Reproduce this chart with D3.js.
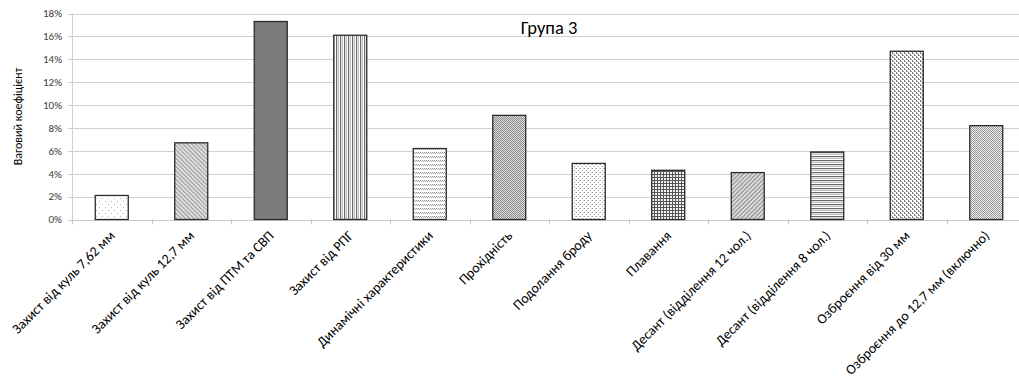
<!DOCTYPE html>
<html>
<head>
<meta charset="utf-8">
<script src="https://cdn.jsdelivr.net/npm/d3@7"></script>
<style>
  html, body { margin: 0; padding: 0; background: #fff; }
  svg { display: block; }
  text { font-family: Carlito, Calibri, "Liberation Sans", "DejaVu Sans", sans-serif; }
</style>
</head>
<body>
<svg id="chart" width="1019" height="389"></svg>
<script>
// Weight coefficients for group 3
const categories = [
  "Захист від куль 7,62 мм",
  "Захист від куль 12,7 мм",
  "Захист від ПТМ та СВП",
  "Захист від РПГ",
  "Динамічні характеристики",
  "Прохідність",
  "Подолання броду",
  "Плавання",
  "Десант (відділення 12 чол.)",
  "Десант (відділення 8 чол.)",
  "Озброєння від 30 мм",
  "Озброєння до 12,7 мм (включно)"
];
const weights = [0.021, 0.067, 0.173, 0.161, 0.062, 0.091, 0.049, 0.043, 0.041, 0.059, 0.147, 0.082];
const yTicks = [0, 0.02, 0.04, 0.06, 0.08, 0.10, 0.12, 0.14, 0.16, 0.18];
const fillPatterns = ["dots", "diagDown", "solidGray", "vertical", "dashH", "checker",
                      "dotsDense", "grid", "diagUp", "horizontal", "zigzag", "checkerLight"];
const chartTitle = "Група 3";
const yLabel = "Ваговий коефіцієнт";

const svg = d3.select("#chart");
const margin = { left: 72, top: 13.5, bottom: 219.5, right: 1026 };

const x = d3.scaleBand().domain(categories).range([margin.left, margin.right]).paddingInner(0.585).paddingOuter(0.2925);
const y = d3.scaleLinear().domain([0, 0.18]).range([margin.bottom, margin.top]);

// ---- pattern definitions ----
const defs = svg.append("defs");
function pat(id, w, h, build, transform) {
  const p = defs.append("pattern").attr("id", id).attr("patternUnits", "userSpaceOnUse")
    .attr("width", w).attr("height", h);
  if (transform) p.attr("patternTransform", transform);
  build(p);
}
function px(p, x0, y0, c, w = 1, h = 1) {
  p.append("rect").attr("x", x0).attr("y", y0).attr("width", w).attr("height", h).attr("fill", c);
}
pat("dots", 6, 6, p => {
  px(p, 0, 0, "#fff", 6, 6);
  px(p, 0, 0, "#b5b5b5");
  px(p, 3, 3, "#b5b5b5");
});
pat("diagDown", 3, 3, p => {
  px(p, 0, 0, "#e6e6e6", 3, 3);
  px(p, 0, 0, "#9a9a9a", 1.2, 3);
}, "rotate(-45)");
pat("solidGray", 4, 4, p => {
  px(p, 0, 0, "#7a7a7a", 4, 4);
  px(p, 0, 0, "#868686");
  px(p, 2, 2, "#868686");
});
pat("vertical", 4, 4, p => {
  px(p, 0, 0, "#fff", 4, 4);
  px(p, 0, 0, "#6a6a6a", 1.2, 4);
  px(p, 2, 0, "#b0b0b0", 0.8, 4);
});
pat("dashH", 4, 4, p => {
  px(p, 0, 0, "#fff", 4, 4);
  px(p, 0, 0, "#8a8a8a");
  px(p, 2, 0, "#8a8a8a");
  px(p, 1, 1, "#aaa");
  px(p, 3, 1, "#aaa");
});
pat("checker", 2, 2, p => {
  px(p, 0, 0, "#ddd", 2, 2);
  px(p, 0, 0, "#8c8c8c");
  px(p, 1, 1, "#8c8c8c");
});
pat("dotsDense", 4, 4, p => {
  px(p, 0, 0, "#fff", 4, 4);
  px(p, 0, 0, "#999");
  px(p, 2, 2, "#999");
  px(p, 3, 0, "#c4c4c4");
});
pat("grid", 3, 3, p => {
  px(p, 0, 0, "#f4f4f4", 3, 3);
  px(p, 0, 0, "#555", 3, 1);
  px(p, 0, 0, "#555", 1, 3);
});
pat("diagUp", 3, 3, p => {
  px(p, 0, 0, "#e6e6e6", 3, 3);
  px(p, 0, 0, "#8e8e8e", 1.3, 3);
}, "rotate(45)");
pat("horizontal", 4, 4, p => {
  px(p, 0, 0, "#fff", 4, 4);
  px(p, 0, 0, "#6a6a6a", 4, 1.2);
  px(p, 0, 2, "#b0b0b0", 4, 0.8);
});
pat("zigzag", 4, 4, p => {
  px(p, 0, 0, "#fff", 4, 4);
  px(p, 0, 0, "#7e7e7e", 1, 2);
  px(p, 1, 1, "#a0a0a0");
  px(p, 2, 2, "#7e7e7e", 1, 2);
  px(p, 3, 3, "#a0a0a0");
});
pat("checkerLight", 2, 2, p => {
  px(p, 0, 0, "#eee", 2, 2);
  px(p, 0, 0, "#999");
  px(p, 1, 1, "#999");
});

// ---- gridlines ----
svg.append("g").selectAll("line").data(yTicks).join("line")
  .attr("x1", margin.left - 4).attr("x2", 1019)
  .attr("y1", d => Math.round(y(d)) + 0.5).attr("y2", d => Math.round(y(d)) + 0.5)
  .attr("stroke", "#d0d0d0").attr("stroke-width", 1);

// y axis line
svg.append("line").attr("x1", margin.left + 0.5).attr("x2", margin.left + 0.5)
  .attr("y1", y(0.18)).attr("y2", y(0)).attr("stroke", "#d0d0d0");

// y tick labels
svg.append("g").selectAll("text").data(yTicks).join("text")
  .attr("x", 62).attr("y", d => y(d) + 3.8)
  .attr("text-anchor", "end").attr("font-size", 11).attr("fill", "#404040")
  .text(d => d3.format(".0%")(d));

// x axis baseline and boundary ticks
const bounds = d3.range(categories.length + 1).map(i => margin.left + i * x.step());
svg.append("line").attr("x1", margin.left).attr("x2", 1019)
  .attr("y1", Math.round(y(0)) + 0.5).attr("y2", Math.round(y(0)) + 0.5).attr("stroke", "#c8c8c8");
svg.append("g").selectAll("line").data(bounds).join("line")
  .attr("x1", d => Math.round(d) + 0.5).attr("x2", d => Math.round(d) + 0.5)
  .attr("y1", y(0)).attr("y2", y(0) + 5).attr("stroke", "#c8c8c8");

// ---- bars ----
svg.append("g").selectAll("rect").data(weights).join("rect")
  .attr("x", (d, i) => x(categories[i]))
  .attr("y", d => y(d))
  .attr("width", x.bandwidth())
  .attr("height", d => y(0) - y(d))
  .attr("fill", (d, i) => `url(#${fillPatterns[i]})`)
  .attr("stroke", "#2b2b2b").attr("stroke-width", 1.3);

// category labels, rotated
svg.append("g").selectAll("text").data(categories).join("text")
  .attr("transform", d => `translate(${x(d) + x.bandwidth() / 2 + 4},${y(0) + 17}) rotate(-45)`)
  .attr("text-anchor", "end").attr("font-size", 14).attr("fill", "#000")
  .text(d => d);

// title
svg.append("text").attr("x", 549).attr("y", 34).attr("text-anchor", "middle")
  .attr("font-size", 18.5).attr("fill", "#000").text(chartTitle);

// y axis title
svg.append("text").attr("transform", `translate(22,${(y(0) + y(0.18)) / 2}) rotate(-90)`)
  .attr("text-anchor", "middle").attr("font-size", 12).attr("fill", "#000").text(yLabel);
</script>
</body>
</html>
